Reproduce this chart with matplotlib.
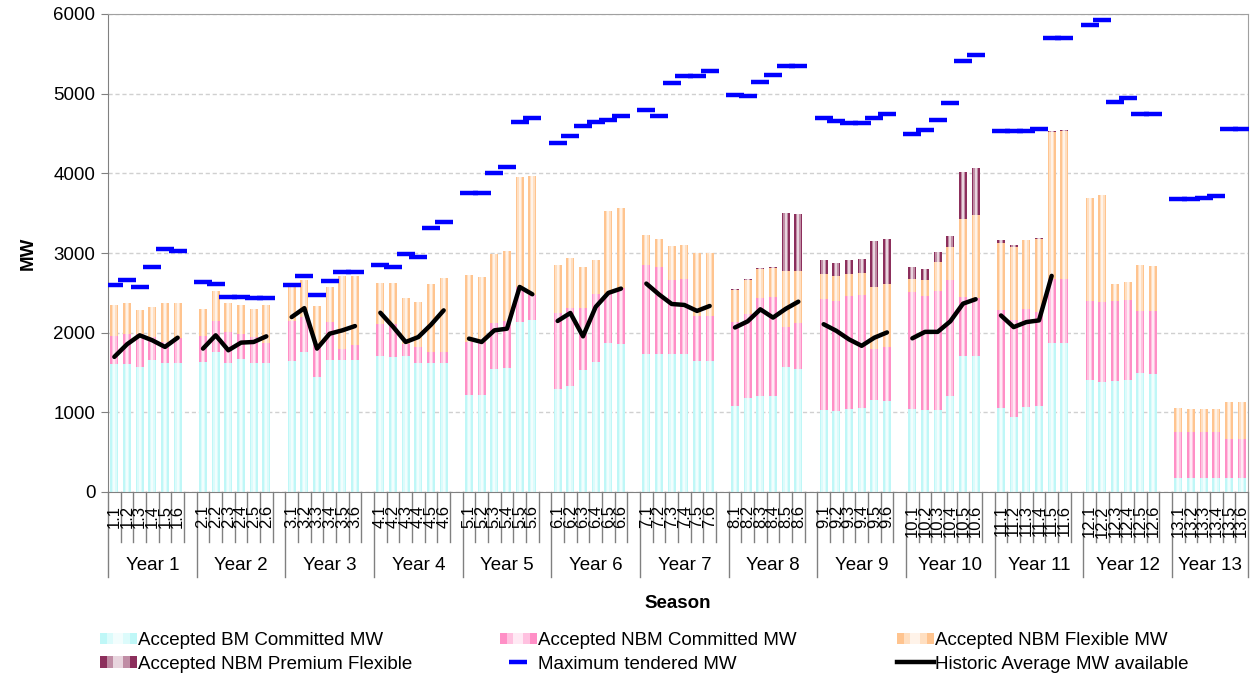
import numpy as np
import matplotlib.pyplot as plt
import matplotlib.transforms as mtransforms
from matplotlib.colors import to_rgb
from matplotlib.lines import Line2D
from matplotlib.patches import Patch, Rectangle
from matplotlib.legend_handler import HandlerBase

plt.rcParams['font.family'] = ['Liberation Sans', 'DejaVu Sans']

#DATA------------------------------------------------------------
years = [f'Year {i}' for i in range(1, 14)]
seasons = [f'{y}.{s}' for y in range(1, 14) for s in range(1, 7)]

bm_committed = [
    1604, 1604, 1571, 1662, 1617, 1617,
    1633, 1758, 1617, 1675, 1617, 1621,
    1646, 1758, 1446, 1662, 1654, 1654,
    1708, 1696, 1705, 1620, 1615, 1615,
    1212, 1212, 1547, 1560, 2134, 2155,
    1296, 1325, 1526, 1631, 1874, 1862,
    1736, 1727, 1727, 1736, 1644, 1644,
    1075, 1179, 1200, 1200, 1565, 1547,
    1025, 1012, 1042, 1054, 1150, 1138,
    1042, 1033, 1033, 1200, 1708, 1708,
    1050, 946, 1063, 1079, 1873, 1873,
    1405, 1384, 1392, 1405, 1488, 1476,
    173, 173, 173, 173, 173, 173,
]
nbm_committed = [
    350, 383, 416, 284, 266, 320,
    321, 388, 391, 312, 329, 250,
    500, 438, 416, 471, 138, 196,
    404, 417, 157, 200, 142, 142,
    671, 671, 575, 587, 440, 315,
    951, 989, 784, 860, 617, 704,
    1111, 1091, 933, 935, 566, 566,
    1063, 1054, 1229, 1250, 512, 572,
    1399, 1391, 1414, 1424, 639, 680,
    1473, 1433, 1492, 1462, 742, 721,
    1232, 1211, 1240, 1181, 805, 797,
    990, 1002, 1007, 1002, 781, 793,
    585, 585, 585, 585, 489, 489,
]
nbm_flexible = [
    388, 384, 292, 375, 488, 434,
    346, 375, 363, 363, 354, 479,
    425, 466, 467, 438, 925, 867,
    513, 516, 578, 565, 858, 933,
    838, 817, 863, 876, 1376, 1496,
    600, 625, 508, 427, 1035, 1002,
    377, 364, 428, 428, 796, 796,
    392, 422, 368, 367, 699, 657,
    318, 314, 278, 272, 781, 794,
    156, 192, 365, 410, 983, 1046,
    844, 919, 857, 921, 1839, 1864,
    1290, 1341, 215, 229, 577, 568,
    292, 280, 280, 287, 472, 472,
]
nbm_premium = [
    0, 0, 0, 0, 0, 0,
    0, 0, 0, 0, 0, 0,
    0, 0, 0, 0, 0, 0,
    0, 0, 0, 0, 0, 0,
    0, 0, 0, 0, 0, 0,
    0, 0, 0, 0, 0, 0,
    0, 0, 0, 0, 0, 0,
    15, 13, 15, 13, 721, 712,
    167, 163, 176, 178, 575, 562,
    147, 139, 126, 136, 588, 588,
    34, 29, 8, 12, 17, 12,
    0, 0, 0, 0, 0, 0,
    0, 0, 0, 0, 0, 0,
]
max_tendered = [
    2600, 2667, 2567, 2821, 3050, 3029,
    2633, 2608, 2446, 2446, 2437, 2437,
    2600, 2717, 2471, 2654, 2758, 2758,
    2845, 2826, 2983, 2950, 3317, 3390,
    3748, 3748, 4008, 4084, 4641, 4700,
    4377, 4470, 4600, 4641, 4670, 4721,
    4797, 4716, 5133, 5225, 5225, 5287,
    4988, 4966, 5146, 5237, 5346, 5346,
    4696, 4662, 4633, 4633, 4696, 4745,
    4500, 4550, 4666, 4879, 5410, 5480,
    4537, 4537, 4537, 4562, 5695, 5695,
    5862, 5925, 4891, 4945, 4745, 4745,
    3675, 3675, 3690, 3716, 4558, 4558,
]
nan = np.nan
historic_avg = [
    1696, 1854, 1967, 1904, 1821, 1937,
    1800, 1967, 1779, 1875, 1883, 1954,
    2196, 2308, 1800, 1987, 2029, 2083,
    2250, 2075, 1883, 1945, 2100, 2280,
    1925, 1883, 2029, 2050, 2574, 2482,
    2147, 2247, 1954, 2323, 2499, 2553,
    2616, 2480, 2360, 2348, 2273, 2335,
    2065, 2142, 2293, 2189, 2299, 2389,
    2106, 2023, 1916, 1835, 1937, 2003,
    1929, 2010, 2010, 2143, 2364, 2420,
    2216, 2070, 2133, 2154, 2713, nan,
    nan, nan, nan, nan, nan, nan,
    nan, nan, nan, nan, nan, nan,
]

#POSITIONS (each year gets a blank slot after its 6 seasons, except the last)
n_years = len(years)
slot = 7
x_pos = np.array([slot*y + s for y in range(n_years) for s in range(6)], dtype=float)
n_cat = slot*(n_years - 1) + 6

#full-length line so blank slots break the historic line
hist_full = np.full(n_cat, np.nan)
hist_full[x_pos.astype(int)] = historic_avg

#layers used to fake the Excel gradient: (width fraction, lighten amount)
GRAD = [(1.0, 0.0), (0.62, 0.45), (0.28, 0.8)]


def lighten(c, f):
    r, g, b = to_rgb(c)
    return (r + (1-r)*f, g + (1-g)*f, b + (1-b)*f)


class GradientSwatch(HandlerBase):
    def create_artists(self, legend, orig_handle, xdescent, ydescent,
                       width, height, fontsize, trans):
        col = orig_handle.get_facecolor()
        arts = []
        for wf, lf in GRAD:
            w = width*wf
            arts.append(Rectangle((-xdescent + (width - w)/2, -ydescent), w, height,
                                  facecolor=lighten(col, lf), edgecolor='none',
                                  transform=trans))
        return arts


#PLOTTING--------------------------------------------------------
fig = plt.figure(figsize=(12.53, 6.79), dpi=100)
ax = fig.add_axes([108/1253, 1-492/679, 1140/1253, 478/679])

series = [
    (bm_committed, '#bff7f7', 'Accepted BM Committed MW'),
    (nbm_committed, '#ff8fc6', 'Accepted NBM Committed MW'),
    (nbm_flexible, '#ffc48f', 'Accepted NBM Flexible MW'),
    (nbm_premium, '#8c2f5c', 'Accepted NBM Premium Flexible'),
]
bar_w = 0.62
bottom = np.zeros(len(x_pos))
for vals, col, lab in series:
    vals = np.array(vals, dtype=float)
    for wf, lf in GRAD:
        ax.bar(x_pos, vals, width=bar_w*wf, bottom=bottom,
               color=lighten(col, lf), linewidth=0, zorder=2)
    bottom += vals

ax.plot(x_pos, max_tendered, ls='none', marker='_', ms=13.5, mew=3.2,
        color='#0000ff', zorder=4)
ax.plot(np.arange(n_cat), hist_full, color='black', lw=3.2,
        solid_joinstyle='round', solid_capstyle='round', zorder=5)

ax.set_xlim(-0.5, n_cat - 0.5)
ax.set_ylim(0, 6000)
ax.set_yticks(range(0, 6001, 1000))
ax.set_xticks([])
ax.tick_params(axis='y', labelsize=13.5, length=5, color='#808080', pad=4)
ax.yaxis.grid(True, ls=(0, (3, 2)), color='#d0d0d0', lw=1)
ax.set_axisbelow(True)
for side in ['top', 'right']:
    ax.spines[side].set_color('#a0a0a0')
for side in ['left', 'bottom']:
    ax.spines[side].set_color('#808080')

#multi-level category axis
trans = mtransforms.blended_transform_factory(ax.transData, ax.transAxes)
for k in range(n_cat + 1):
    b = k - 0.5
    depth = 85/478 if (k % slot == 0 or k == n_cat) else 50/478
    ax.plot([b, b], [0, -depth], transform=trans, clip_on=False,
            color='#808080', lw=1)

for xp, lab in zip(x_pos, seasons):
    ax.text(xp, -13/478, lab, transform=trans, rotation=90, ha='center',
            va='top', fontsize=12)

for y, lab in enumerate(years):
    start = slot*y - 0.5
    end = min(slot*(y+1) - 0.5, n_cat - 0.5)
    ax.text((start + end)/2, -73/478, lab, transform=trans, ha='center',
            va='center', fontsize=13.5)

fig.text(678/1253, 1-603/679, 'Season', ha='center', va='center',
         fontsize=13.5, fontweight='bold')
fig.text(28/1253, 1-253/679, 'MW', ha='center', va='center', rotation=90,
         fontsize=13.5, fontweight='bold')

#legend, three columns placed by hand
handles = [Patch(facecolor=c, edgecolor='none', label=l) for _, c, l in series]
h_max = Line2D([], [], ls='none', marker='_', ms=13, mew=3.2, color='#0000ff',
               label='Maximum tendered MW')
h_hist = Line2D([], [], color='black', lw=3.2, label='Historic Average MW available')
columns = [
    ([handles[0], handles[3]], 100),
    ([handles[1], h_max], 500),
    ([handles[2], h_hist], 897),
]
for hs, xl in columns:
    fig.legend(handles=hs, loc='upper left', bbox_to_anchor=(xl/1253, 1-632/679),
               frameon=False, fontsize=13.5, handlelength=1.95, handleheight=0.55,
               handletextpad=0.1, labelspacing=0.35, borderpad=0, borderaxespad=0,
               handler_map={Patch: GradientSwatch()})

fig.savefig('out.png', dpi=100)
